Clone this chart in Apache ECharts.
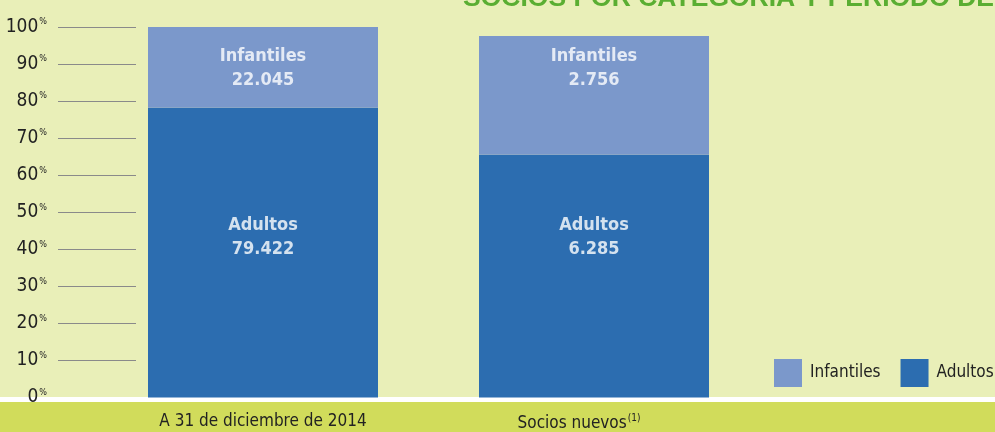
<!DOCTYPE html>
<html>
<head>
<meta charset="utf-8">
<script src="https://cdn.jsdelivr.net/npm/echarts@6/dist/echarts.min.js"></script>
<style>
html,body{margin:0;padding:0;background:#E9EFB8;}
#c{width:995px;height:432px;}
</style>
</head>
<body>
<div id="c"></div>
<script>
// ---- data ----
var categories = ['A 31 de diciembre de 2014', 'Socios nuevos'];
var seriesNames = ['Infantiles', 'Adultos'];
var adultosCount = [79422, 6285];
var infantilesCount = [22045, 2756];
// bar heights (percent of scale)
var adultosPct = [78.2, 65.5];
var infantilesPct = [21.8, 32.1];
var yTicks = [0, 10, 20, 30, 40, 50, 60, 70, 80, 90, 100];
var titleText = 'SOCIOS POR CATEGORÍA Y PERIODO DE';

var NARROW = '"Liberation Sans Narrow","DejaVu Sans Condensed","Roboto",sans-serif';
var C_LIGHT = '#7B98CB', C_DARK = '#2C6DB0';

function fmt(n){ return String(n).replace(/\B(?=(\d{3})+(?!\d))/g, '.'); }

var chart = echarts.init(document.getElementById('c'), null, {renderer:'canvas'});
var labelRich = {
  n: {fontFamily: NARROW, fontSize: 18, fontWeight: 'bold', color: '#fff', lineHeight: 24},
  v: {fontFamily: NARROW, fontSize: 18, fontWeight: 'bold', color: '#fff', lineHeight: 24}
};
chart.setOption({
  backgroundColor: '#E9EFB8',
  animation: false,
  graphic: [
    {type:'rect', left:0, top:397, shape:{width:995, height:5}, style:{fill:'#ffffff'}, z:-10, silent:true},
    {type:'rect', left:0, top:402, shape:{width:995, height:30}, style:{fill:'#D1DC5B'}, z:-10, silent:true},
    {type:'text', left:463, top:-15, style:{text:titleText, fill:'#5AAE32', font:'bold 26.5px "Liberation Sans", Arial, sans-serif'}, z:10}
  ],
  legend: {
    left: 774, top: 359, itemWidth: 28, itemHeight: 28, itemGap: 20,
    orient: 'horizontal', padding: 0, width: 240,
    icon: 'rect',
    data: seriesNames,
    textStyle: {fontFamily: NARROW, fontSize: 17, color: '#222', padding: [0,0,0,3]}
  },
  grid: {left: 97.5, width: 662, top: 27, bottom: 34},
  xAxis: {
    type: 'category', data: [
      categories[0],
      {value: categories[1], textStyle: {padding: [0, 30, 0, 0]}}
    ],
    axisLine: {show:false}, axisTick: {show:false},
    axisLabel: {
      margin: 16, color: '#222', fontFamily: NARROW, fontSize: 17,
      formatter: function(v, i){ return i === 1 ? '{t|' + v + '}{s|(1)}' : '{t|' + v + '}'; },
      rich: {
        t: {fontFamily: NARROW, fontSize: 17, color: '#222'},
        s: {fontFamily: NARROW, fontSize: 10, color: '#222', padding: [0,0,10,1]}
      }
    }
  },
  yAxis: {
    type: 'value', min: 0, max: 100, interval: 10, offset: -38.5,
    axisLine: {show:false},
    splitLine: {show:false},
    axisTick: {show:true, length: 78, customValues: yTicks.slice(1), lineStyle: {color:'#8A8A8A', width:1}},
    axisLabel: {
      margin: 89, customValues: yTicks,
      formatter: function(v){ return '{n|' + v + '}{p|%}'; },
      rich: {
        n: {fontFamily: NARROW, fontSize: 19, color: '#222'},
        p: {fontFamily: NARROW, fontSize: 9, color: '#222', padding: [0,0,10,1]}
      }
    }
  },
  series: [
    {name: 'Adultos', type: 'bar', stack: 's', barWidth: 230, data: adultosPct, itemStyle: {color: C_DARK}, z: 2},
    {name: 'Infantiles', type: 'bar', stack: 's', barWidth: 230, data: infantilesPct, itemStyle: {color: C_LIGHT}, z: 2},
    {name: 'lblInf', type: 'scatter', symbolSize: 0, data: [88.9, 88.9], z: 5, silent: true,
     label: {show: true, position: 'inside', rich: labelRich,
       formatter: function(p){ return '{n|Infantiles}\n{v|' + fmt(infantilesCount[p.dataIndex]) + '}'; }}},
    {name: 'lblAd', type: 'scatter', symbolSize: 0, data: [43.2, 43.2], z: 5, silent: true,
     label: {show: true, position: 'inside', rich: labelRich,
       formatter: function(p){ return '{n|Adultos}\n{v|' + fmt(adultosCount[p.dataIndex]) + '}'; }}}
  ]
});
</script>
</body>
</html>
